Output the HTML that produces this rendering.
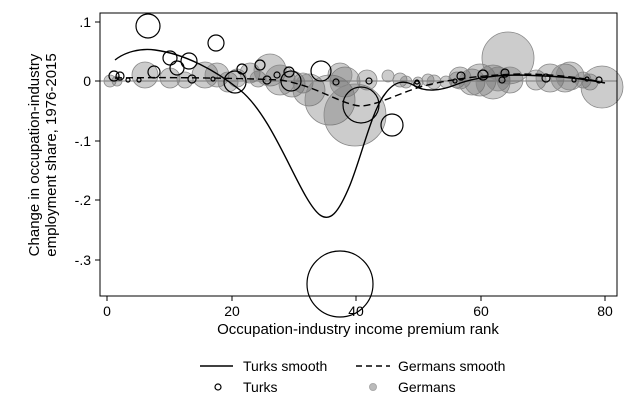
<!DOCTYPE html><html><head><style>body{margin:0;background:#fff}svg{display:block}text{font-family:"Liberation Sans",sans-serif;fill:#000}</style></head><body>
<svg width="627" height="414" xmlns="http://www.w3.org/2000/svg">
<rect width="627" height="414" fill="#fff"/>
<line x1="100" y1="81" x2="617" y2="81" stroke="#999" stroke-width="1.2"/>
<g fill="rgba(110,110,110,0.35)" stroke="#888" stroke-width="0.8">
<circle cx="110" cy="81" r="6"/><circle cx="117" cy="81" r="5"/><circle cx="145" cy="75" r="13"/><circle cx="170" cy="78" r="10"/><circle cx="185" cy="80" r="8"/><circle cx="205" cy="75" r="13"/><circle cx="217" cy="75" r="12"/><circle cx="228" cy="82" r="10"/><circle cx="237" cy="78" r="9"/><circle cx="250" cy="73" r="10"/><circle cx="258" cy="79" r="8"/><circle cx="270" cy="70" r="16"/><circle cx="280" cy="80" r="15"/><circle cx="292" cy="84" r="13"/><circle cx="303" cy="83" r="10"/><circle cx="309" cy="90" r="16"/><circle cx="330" cy="100" r="25"/><circle cx="345" cy="82" r="15"/><circle cx="355" cy="115" r="31"/><circle cx="340" cy="75" r="12"/><circle cx="367" cy="80" r="10"/><circle cx="388" cy="76" r="6"/><circle cx="400" cy="80" r="7"/><circle cx="406" cy="82" r="6"/><circle cx="418" cy="82" r="5"/><circle cx="428" cy="80" r="6"/><circle cx="434" cy="82" r="7"/><circle cx="446" cy="82" r="6"/><circle cx="457" cy="80" r="8"/><circle cx="460" cy="78" r="11"/><circle cx="472" cy="82" r="13"/><circle cx="480" cy="80" r="16"/><circle cx="493" cy="82" r="17"/><circle cx="498" cy="79" r="12"/><circle cx="508" cy="58" r="26"/><circle cx="510" cy="80" r="13"/><circle cx="536" cy="80" r="10"/><circle cx="550" cy="78" r="14"/><circle cx="565" cy="78" r="14"/><circle cx="570" cy="76" r="14"/><circle cx="583" cy="80" r="8"/><circle cx="590" cy="82" r="8"/><circle cx="602" cy="87" r="21"/>
</g>
<path d="M115,60 C125,52 140,48 155,50 C185,54 215,70 240,90 C275,118 300,200 320,215 C330,222 338,214 350,185 C362,155 372,110 385,94 C395,80 405,80 415,86 C425,92 440,91 455,85 C470,79 490,75 520,75 C550,76 575,77 605,83" fill="none" stroke="#000" stroke-width="1.4"/>
<path d="M115,78 C160,77 240,78 280,80 C315,85 340,104 360,106 C375,106 395,95 420,87 C445,80 480,75 520,74 C555,74 585,78 605,83" fill="none" stroke="#000" stroke-width="1.4" stroke-dasharray="7,4"/>
<g fill="none" stroke="#000" stroke-width="1.2">
<circle cx="114" cy="76" r="5"/><circle cx="120" cy="76" r="4"/><circle cx="128" cy="80" r="2"/><circle cx="139" cy="80" r="2"/><circle cx="148" cy="26" r="12"/><circle cx="154" cy="72" r="6"/><circle cx="170" cy="58" r="7"/><circle cx="177" cy="68" r="7"/><circle cx="189" cy="61" r="8"/><circle cx="192" cy="79" r="4"/><circle cx="216" cy="43" r="8"/><circle cx="242" cy="69" r="5"/><circle cx="235" cy="82" r="11"/><circle cx="213" cy="79" r="2"/><circle cx="260" cy="65" r="5"/><circle cx="267" cy="80" r="4"/><circle cx="277" cy="75" r="3"/><circle cx="289" cy="72" r="5"/><circle cx="291" cy="81" r="10"/><circle cx="321" cy="71" r="10"/><circle cx="336" cy="82" r="3"/><circle cx="361" cy="105" r="18"/><circle cx="369" cy="81" r="3"/><circle cx="392" cy="125" r="11"/><circle cx="417" cy="84" r="3"/><circle cx="417" cy="82" r="2"/><circle cx="455" cy="81" r="2"/><circle cx="461" cy="76" r="4"/><circle cx="483" cy="75" r="5"/><circle cx="505" cy="73" r="4"/><circle cx="502" cy="80" r="3"/><circle cx="546" cy="78" r="4"/><circle cx="574" cy="80" r="2"/><circle cx="587" cy="79" r="2"/><circle cx="599" cy="80" r="3"/><circle cx="340" cy="284" r="33"/>
</g>
<rect x="100" y="13" width="517" height="283" fill="none" stroke="#000" stroke-width="1"/>
<g stroke="#000"><line x1="95" y1="22" x2="100" y2="22"/><line x1="95" y1="81" x2="100" y2="81"/><line x1="95" y1="141" x2="100" y2="141"/><line x1="95" y1="200" x2="100" y2="200"/><line x1="95" y1="260" x2="100" y2="260"/>
<line x1="107" y1="296" x2="107" y2="301"/><line x1="232" y1="296" x2="232" y2="301"/><line x1="356" y1="296" x2="356" y2="301"/><line x1="481" y1="296" x2="481" y2="301"/><line x1="605" y1="296" x2="605" y2="301"/></g>
<g font-size="14" text-anchor="end"><text x="91" y="27">.1</text><text x="91" y="86">0</text><text x="91" y="146">-.1</text><text x="91" y="205">-.2</text><text x="91" y="265">-.3</text></g>
<g font-size="14" text-anchor="middle"><text x="107" y="316">0</text><text x="232" y="316">20</text><text x="356" y="316">40</text><text x="481" y="316">60</text><text x="605" y="316">80</text>
<text x="358" y="334" font-size="15">Occupation-industry income premium rank</text>
<text transform="translate(39,155) rotate(-90)" font-size="15">Change in occupation-industry</text>
<text transform="translate(56,155) rotate(-90)" font-size="15">employment share, 1976-2015</text></g>
<line x1="200" y1="366" x2="233" y2="366" stroke="#000" stroke-width="1.4"/>
<line x1="356" y1="366" x2="390" y2="366" stroke="#000" stroke-width="1.4" stroke-dasharray="6,4"/>
<circle cx="218" cy="387" r="3" fill="none" stroke="#000" stroke-width="1.2"/>
<circle cx="373" cy="387" r="3.5" fill="#bbb" stroke="#aaa"/>
<g font-size="14"><text x="243" y="371">Turks smooth</text><text x="398" y="371">Germans smooth</text><text x="243" y="392">Turks</text><text x="398" y="392">Germans</text></g>
</svg></body></html>
